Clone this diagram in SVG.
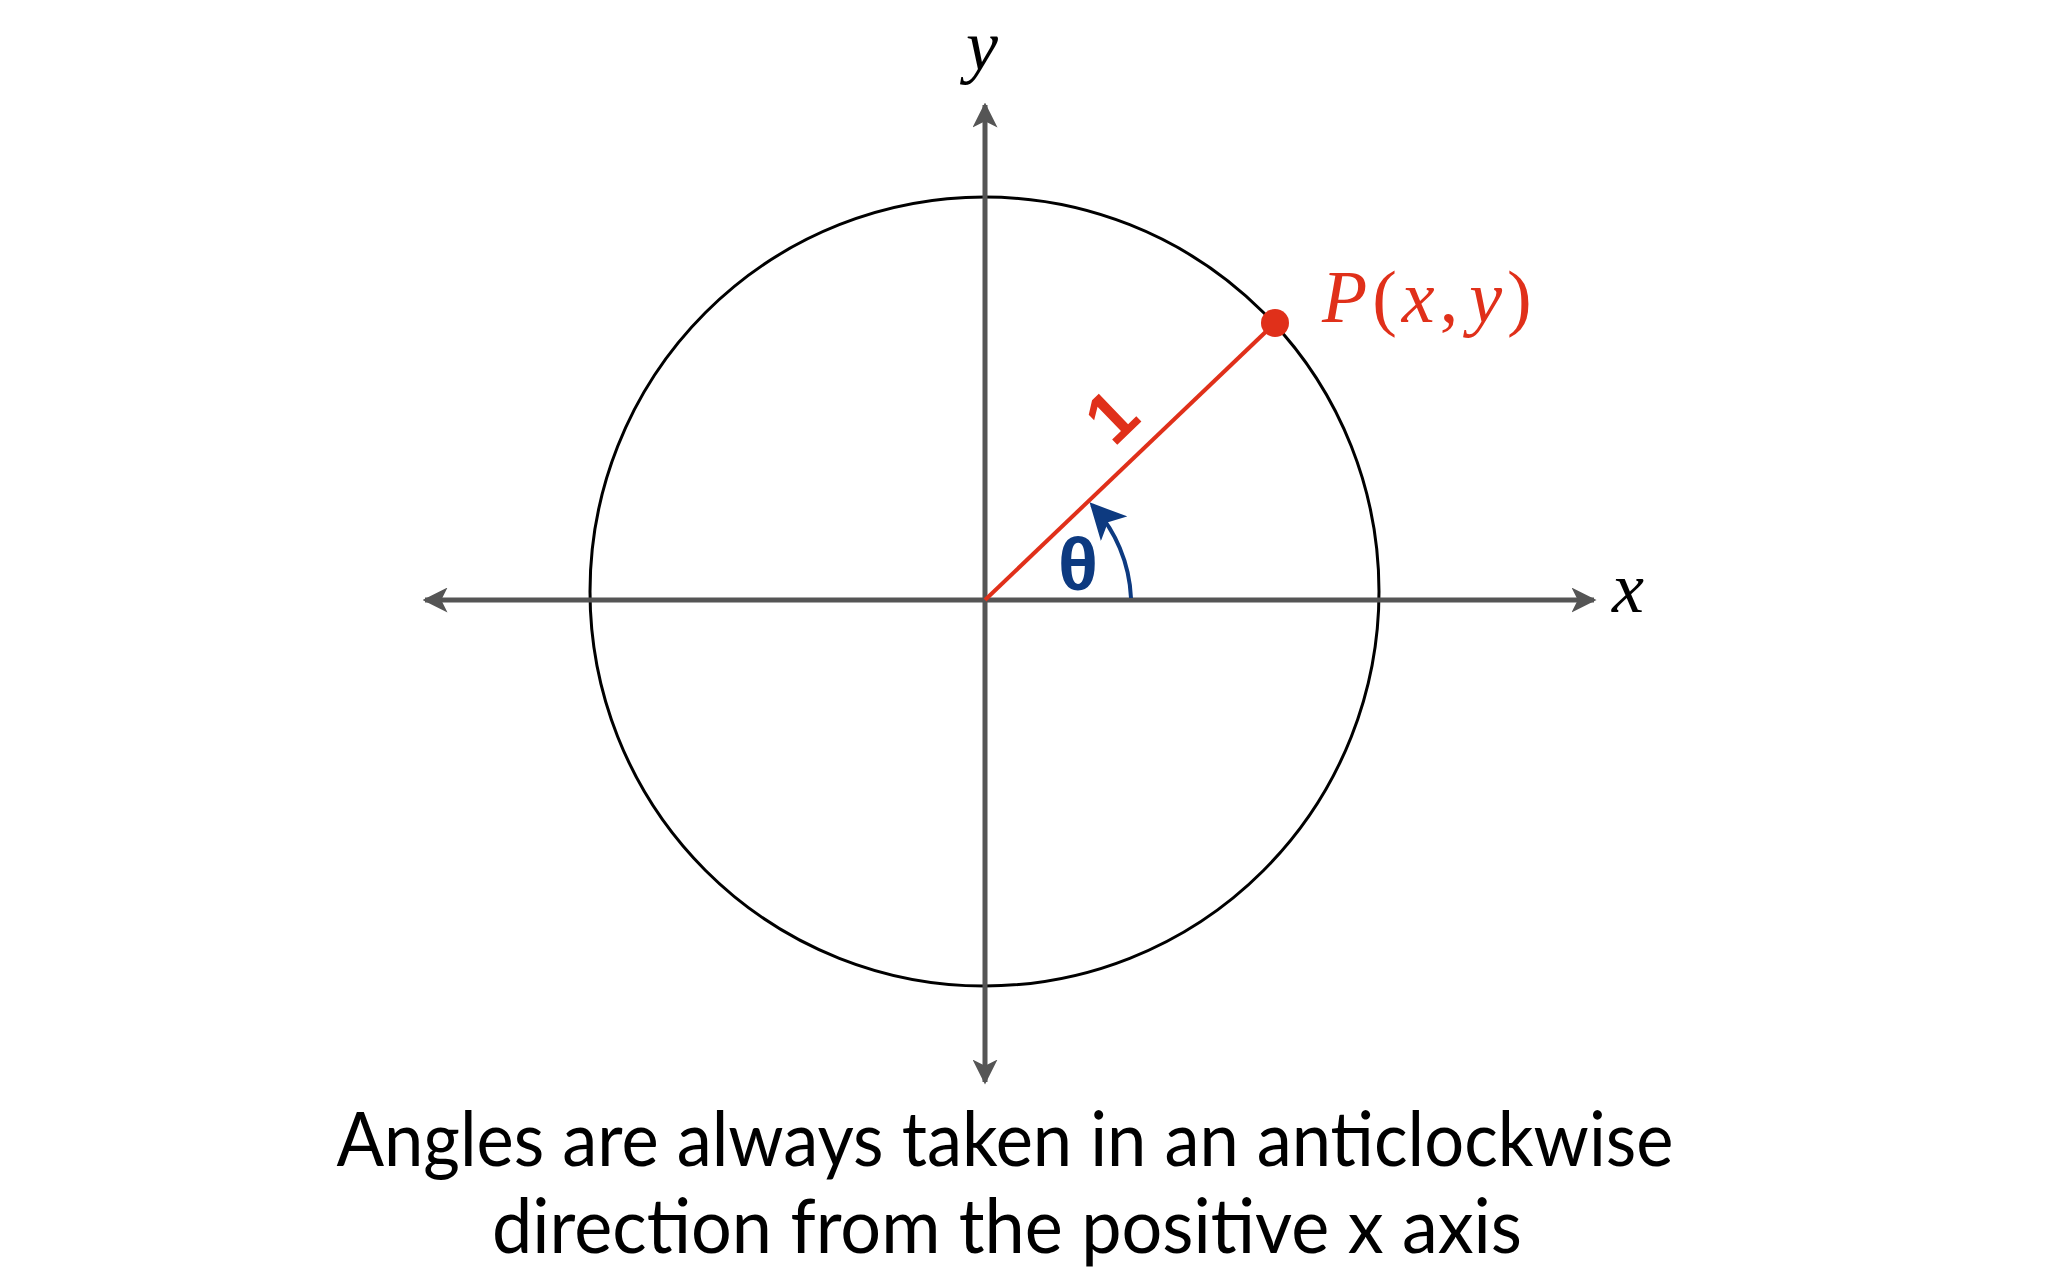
<svg xmlns="http://www.w3.org/2000/svg" width="2048" height="1280" viewBox="0 0 2048 1280">
<defs>
<style>
.axis{stroke:#555;stroke-width:5;fill:none}
.serif{font-family:"Liberation Serif","Times New Roman",serif}
.cap{font-family:Lato,"Liberation Sans",sans-serif;font-size:76px;fill:#000}
</style>
<marker id="ah" viewBox="0 0 10 10" refX="9" refY="5" markerWidth="5" markerHeight="5" markerUnits="strokeWidth" orient="auto">
<path d="M0,0 L10,5 L0,10 L2.5,5 Z" fill="#555"/>
</marker>
<marker id="bh" viewBox="0 0 10 10" refX="9" refY="5" markerWidth="9" markerHeight="9" markerUnits="strokeWidth" orient="auto">
<path d="M0,0 L10,5 L0,10 L2.5,5 Z" fill="#0d3a80"/>
</marker>
</defs>
<rect width="2048" height="1280" fill="#fff"/>
<g id="circle"><circle cx="984.5" cy="591.5" r="394.5" fill="none" stroke="#000" stroke-width="3"/></g>
<g id="connectors">
<line class="axis" x1="985" y1="600" x2="1594" y2="600" marker-end="url(#ah)"/>
<line class="axis" x1="985" y1="600" x2="425" y2="600" marker-end="url(#ah)"/>
<line class="axis" x1="985" y1="600" x2="985" y2="105" marker-end="url(#ah)"/>
<line class="axis" x1="985" y1="600" x2="985" y2="1082" marker-end="url(#ah)"/>
<line id="radius" x1="985" y1="600" x2="1275" y2="323" stroke="#e0301a" stroke-width="4"/>
<path id="angle-arc" d="M1131,598 A146,146 0 0 0 1092,505" fill="none" stroke="#0d3a80" stroke-width="4" marker-end="url(#bh)"/>
</g>
<g id="point"><circle cx="1275" cy="323" r="14" fill="#e0301a"/>
<text class="serif" x="1322" y="322" font-size="74" fill="#e0301a" letter-spacing="5"><tspan font-style="italic">P</tspan>(<tspan font-style="italic">x</tspan>,<tspan font-style="italic" dx="6">y</tspan>)</text></g>
<g id="label-x"><text class="serif" x="1612" y="612" font-size="72" font-style="italic">x</text></g>
<g id="label-y"><text class="serif" x="966" y="70" font-size="72" font-style="italic">y</text></g>
<g id="label-1"><text x="1111" y="416" font-family="'Liberation Sans',Arial,sans-serif" font-size="72" font-weight="bold" fill="#e0301a" text-anchor="middle" dominant-baseline="central" transform="rotate(-44 1111 416)">1</text></g>
<g id="label-theta"><text x="1078" y="590" font-family="'Liberation Sans',Arial,sans-serif" font-size="74" font-weight="bold" fill="#0d3a80" text-anchor="middle">θ</text></g>
<g id="caption">
<text class="cap" x="1005" y="1166" text-anchor="middle" textLength="1337" lengthAdjust="spacingAndGlyphs">Angles are always taken in an anticlockwise</text>
<text class="cap" x="1007" y="1253" text-anchor="middle" textLength="1030" lengthAdjust="spacingAndGlyphs">direction from the positive x axis</text>
</g>
</svg>
